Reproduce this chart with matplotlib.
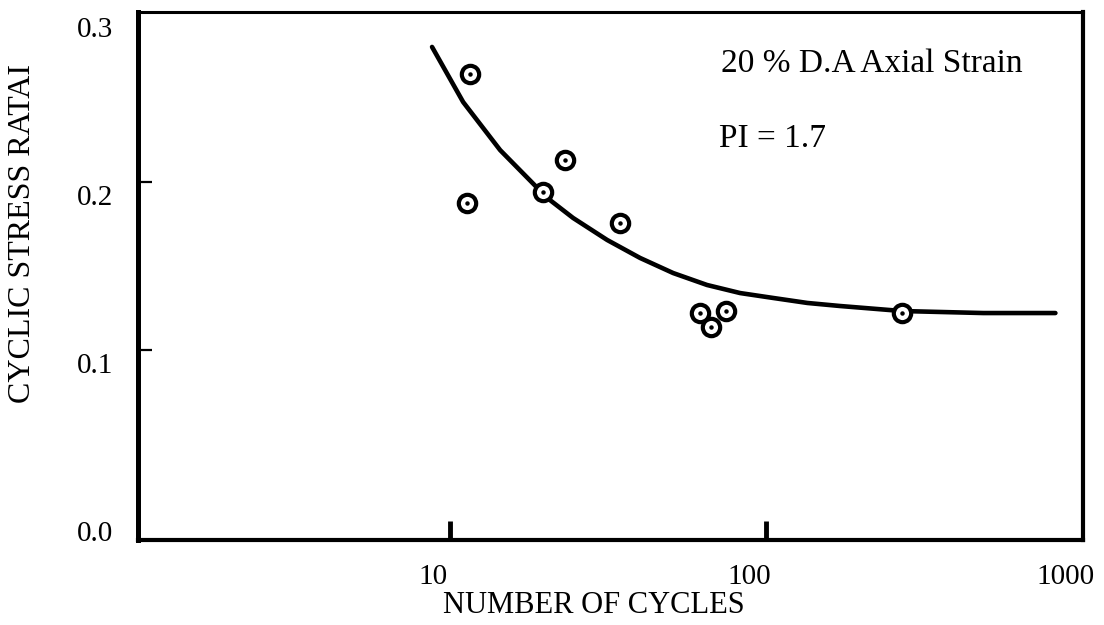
import numpy as np
import matplotlib
matplotlib.use('Agg')
import matplotlib.pyplot as plt
from matplotlib.ticker import NullLocator
from matplotlib.transforms import ScaledTranslation

plt.rcParams['font.family'] = ['Liberation Serif', 'DejaVu Serif']

# puntos de ensayo (ciclos, razon de tension ciclica)
ciclos = [11.6, 23.1, 11.3, 19.7, 34.5, 61.8, 67.0, 74.7, 269.0]
razon = [0.264, 0.213, 0.1875, 0.194, 0.1756, 0.122, 0.1137, 0.1232, 0.122]

# curva trazada a mano
curva_n = [8.77, 11.0, 14.4, 20.3, 24.5, 31.4, 39.9, 50.8, 65.0, 82.7,
           105.0, 135.0, 171.0, 269.0, 486.0, 822.0]
curva_r = [0.2804, 0.2476, 0.2190, 0.1905, 0.1786, 0.1655, 0.1548, 0.1458,
           0.1387, 0.1339, 0.1310, 0.1280, 0.1262, 0.1232, 0.1220, 0.1220]

xticks = [10, 100, 1000]
xtick_labels = ['10', '100', '1000']
yticks = [0.0, 0.1, 0.2, 0.3]
ytick_labels = ['0.0', '0.1', '0.2', '0.3']

fig = plt.figure(figsize=(11.04, 6.25), dpi=100)
ax = fig.add_axes([138/1104, 1 - 540/625, 945/1104, 528/625])

ax.plot(curva_n, curva_r, color='black', linewidth=3.3, zorder=2,
        solid_capstyle='round', solid_joinstyle='round')
ax.plot(ciclos, razon, linestyle='none', marker='o', markersize=12.5,
        markerfacecolor='white', markeredgecolor='black',
        markeredgewidth=3.0, zorder=3)
ax.plot(ciclos, razon, linestyle='none', marker='o', markersize=2.2,
        color='black', zorder=4)

ax.set_xscale('log')
ax.set_xlim(1.03, 1005)
ax.set_ylim(-0.0131, 0.3012)
ax.xaxis.set_minor_locator(NullLocator())
ax.yaxis.set_minor_locator(NullLocator())
ax.set_xticks(xticks, labels=xtick_labels)
ax.set_yticks(yticks, labels=ytick_labels)

ax.tick_params(axis='x', direction='in', length=14, width=3.5, pad=17,
               labelsize=21)
ax.tick_params(axis='y', direction='in', length=10, width=1.6, pad=18,
               labelsize=21)

# sin marcas en 0.0, 0.3 y 1000
ax.yaxis.get_major_ticks()[0].tick1line.set_visible(False)
ax.yaxis.get_major_ticks()[3].tick1line.set_visible(False)
ax.xaxis.get_major_ticks()[2].tick1line.set_visible(False)

ax.spines['left'].set_linewidth(3.6)
ax.spines['bottom'].set_linewidth(3.0)
ax.spines['right'].set_linewidth(3.0)
ax.spines['top'].set_linewidth(2.2)

ax.set_xlabel('NUMBER OF CYCLES', fontsize=22)
ax.xaxis.set_label_coords(0.4825, -0.0966)
ax.set_ylabel('CYCLIC STRESS RATAI', fontsize=23, va='center')
ax.yaxis.set_label_coords(-0.122, 0.581)

ax.text(0.617, 0.886, '20 % D.A Axial Strain', transform=ax.transAxes,
        fontsize=24, va='baseline', ha='left')
ax.text(0.615, 0.744, 'PI = 1.7', transform=ax.transAxes,
        fontsize=24, va='baseline', ha='left')

fig.canvas.draw()
dx = ScaledTranslation(-17/100, 0, fig.dpi_scale_trans)
dy = ScaledTranslation(0, -13/100, fig.dpi_scale_trans)
for lab in ax.get_xticklabels():
    lab.set_transform(lab.get_transform() + dx)
for lab in ax.get_yticklabels():
    lab.set_transform(lab.get_transform() + dy)

fig.savefig('out.png', dpi=100)
